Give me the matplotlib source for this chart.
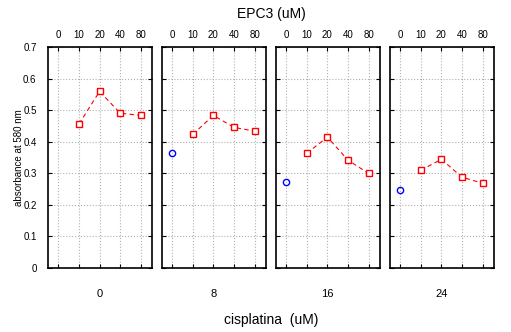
import numpy as np
import matplotlib
matplotlib.use('Agg')
import matplotlib.pyplot as plt

plt.rcParams['font.family'] = ['Liberation Sans', 'DejaVu Sans']

# EPC3 doses (top axis) and cisplatina doses (one panel each)
epc3 = ['0', '10', '20', '40', '80']
cisplatina = ['0', '8', '16', '24']

# absorbance at 580 nm, None where no point was drawn
absorb = [
    [None, 0.457, 0.560, 0.491, 0.484],
    [0.364, 0.424, 0.484, 0.446, 0.434],
    [0.272, 0.364, 0.415, 0.342, 0.300],
    [0.246, 0.310, 0.345, 0.288, 0.269],
]

fig = plt.figure(figsize=(5.11, 3.32), dpi=100)
W, H = 511, 332
lefts = [47.7, 161.5, 275.5, 389.5]
pw = 104
top, bottom = 47.3, 268

x = np.arange(len(epc3))
for i, vals in enumerate(absorb):
    ax = fig.add_axes([lefts[i] / W, 1 - bottom / H, pw / W, (bottom - top) / H])
    # control point (EPC3 = 0) drawn as blue circle
    if vals[0] is not None:
        ax.plot(x[0], vals[0], 'o', mfc='none', mec='blue', ms=4.5, mew=1)
    xs = x[1:]
    ys = vals[1:]
    ax.plot(xs, ys, ls=(0, (4, 3)), lw=0.8, c='red')
    ax.plot(xs, ys, 's', mfc='white', mec='red', ms=5, mew=1, ls='none')

    ax.set_xlim(-0.52, 4.53)
    ax.set_ylim(0, 0.7)
    ax.set_yticks(np.arange(0, 0.71, 0.1))
    ax.set_xticks(x)
    ax.set_xticklabels(epc3)
    ax.xaxis.set_ticks_position('both')
    ax.tick_params(axis='x', which='both', direction='in', length=3, width=0.8,
                   labeltop=True, labelbottom=False, labelsize=7, pad=5)
    ax.tick_params(axis='y', direction='in', length=3, width=0.8, left=True, right=True,
                   labelsize=7, pad=8)
    if i == 0:
        ax.set_yticklabels(['0', '0.1', '0.2', '0.3', '0.4', '0.5', '0.6', '0.7'])
        ax.set_ylabel('absorbance at 580 nm', fontsize=7, labelpad=-1)
    else:
        ax.set_yticklabels([])
    ax.grid(ls=':', lw=0.8, c='#b0b0b0')
    for s in ax.spines.values():
        s.set_linewidth(1.2)
    ax.text(0.5, -0.12, cisplatina[i], transform=ax.transAxes, ha='center', va='center',
            fontsize=8)

fig.text(271 / W, 1 - 14 / H, 'EPC3 (uM)', ha='center', va='center', fontsize=10)
fig.text(271 / W, 1 - 320 / H, 'cisplatina  (uM)', ha='center', va='center', fontsize=10)

plt.savefig('out.png', dpi=100)
